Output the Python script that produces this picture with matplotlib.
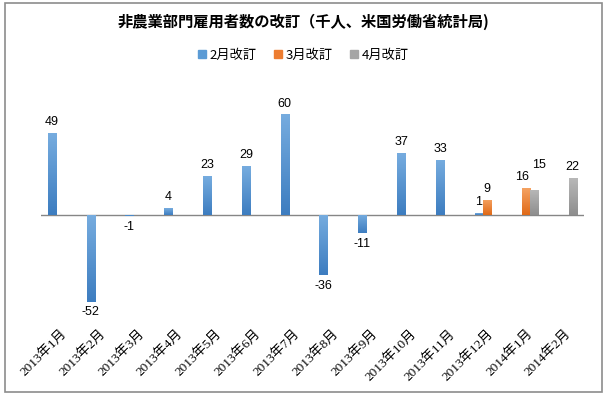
import numpy as np
import matplotlib
matplotlib.use("Agg")
import matplotlib.pyplot as plt
from matplotlib.patches import Rectangle
from matplotlib.colors import LinearSegmentedColormap

plt.rcParams['font.family'] = ['Noto Sans CJK JP', 'DejaVu Sans']

categories = ["2013年1月", "2013年2月", "2013年3月", "2013年4月", "2013年5月", "2013年6月",
              "2013年7月", "2013年8月", "2013年9月", "2013年10月", "2013年11月", "2013年12月",
              "2014年1月", "2014年2月"]
series_names = ["2月改訂", "3月改訂", "4月改訂"]
rev_feb = [49, -52, -1, 4, 23, 29, 60, -36, -11, 37, 33, 1, np.nan, np.nan]
rev_mar = [np.nan] * 11 + [9, 16, np.nan]
rev_apr = [np.nan] * 12 + [15, 22]
title = "非農業部門雇用者数の改訂（千人、米国労働省統計局)"

colors = ["#5b9bd5", "#ed7d31", "#a5a5a5"]
grad = [("#76acdf", "#3d7dc0"), ("#f5a262", "#e06a18"), ("#b8b8b8", "#8e8e8e")]
# manual label nudges (points) to avoid overlap, as in the original
label_shift = {(1, 12): (-3, 0), (2, 12): (4, 10)}

fig = plt.figure(figsize=(6.07, 3.97), dpi=100)
ax = fig.add_axes([40.6 / 607, 82 / 397, (584 - 40.6) / 607, (316 - 82) / 397])

x = np.arange(len(categories))
w = 0.21
offsets = [-w, 0, w]
serif = ['Liberation Serif', 'Noto Sans CJK JP']
sans = ['Liberation Sans', 'Noto Sans CJK JP']

for si, vals in enumerate([rev_feb, rev_mar, rev_apr]):
    vals = np.array(vals, dtype=float)
    bars = ax.bar(x + offsets[si], vals, width=w, color=colors[si], edgecolor='none', zorder=2)
    cmap = LinearSegmentedColormap.from_list("g%d" % si, [grad[si][1], grad[si][0]])
    for i, (b, v) in enumerate(zip(bars, vals)):
        if np.isnan(v):
            continue
        x0 = b.get_x(); x1 = x0 + b.get_width()
        y0, y1 = sorted([0, v])
        img = ax.imshow(np.linspace(0, 1, 64).reshape(-1, 1), cmap=cmap, aspect='auto',
                        extent=(x0, x1, y0, y1), origin='lower', zorder=3)
        img.set_clip_path(b)
        xc = x0 + b.get_width() / 2
        dx, dy = label_shift.get((si, i), (0, 0))
        if v >= 0:
            ax.annotate(f"{int(v)}", (xc, v), xytext=(dx, 3.5 + dy), textcoords='offset points',
                        ha='center', va='bottom', fontsize=9, family=sans)
        else:
            ax.annotate(f"{int(v)}", (xc, v), xytext=(dx, -3.5 + dy), textcoords='offset points',
                        ha='center', va='top', fontsize=9, family=sans)

ax.set_xlim(-0.5, len(categories) - 0.5)
ax.set_ylim(-60, 80)
ax.axhline(0, color='#868686', lw=1.0, zorder=1)
for s in ax.spines.values():
    s.set_visible(False)
ax.set_yticks([])
ax.set_xticks(x)
ax.set_xticklabels(categories, rotation=45, ha='right', va='top', rotation_mode='anchor',
                   fontsize=9.5, family=serif)
ax.tick_params(axis='x', length=0, pad=9)

fig.text(0.5, 1 - 22 / 397, title, ha='center', va='center', fontsize=11, fontweight='bold')

handles = [Rectangle((0, 0), 1, 1, color=c) for c in colors]
fig.legend(handles, series_names, loc='center', bbox_to_anchor=(0.5, 1 - 55 / 397), ncol=3,
           frameon=False, fontsize=9.5, handlelength=0.6, handleheight=0.6, handletextpad=0.3,
           columnspacing=1.3)

fig.add_artist(Rectangle((5 / 607, 5 / 397), 597 / 607, 389 / 397, transform=fig.transFigure,
                         fill=False, edgecolor='#8c8c8c', lw=1.2))

fig.savefig("out.png", dpi=100)
